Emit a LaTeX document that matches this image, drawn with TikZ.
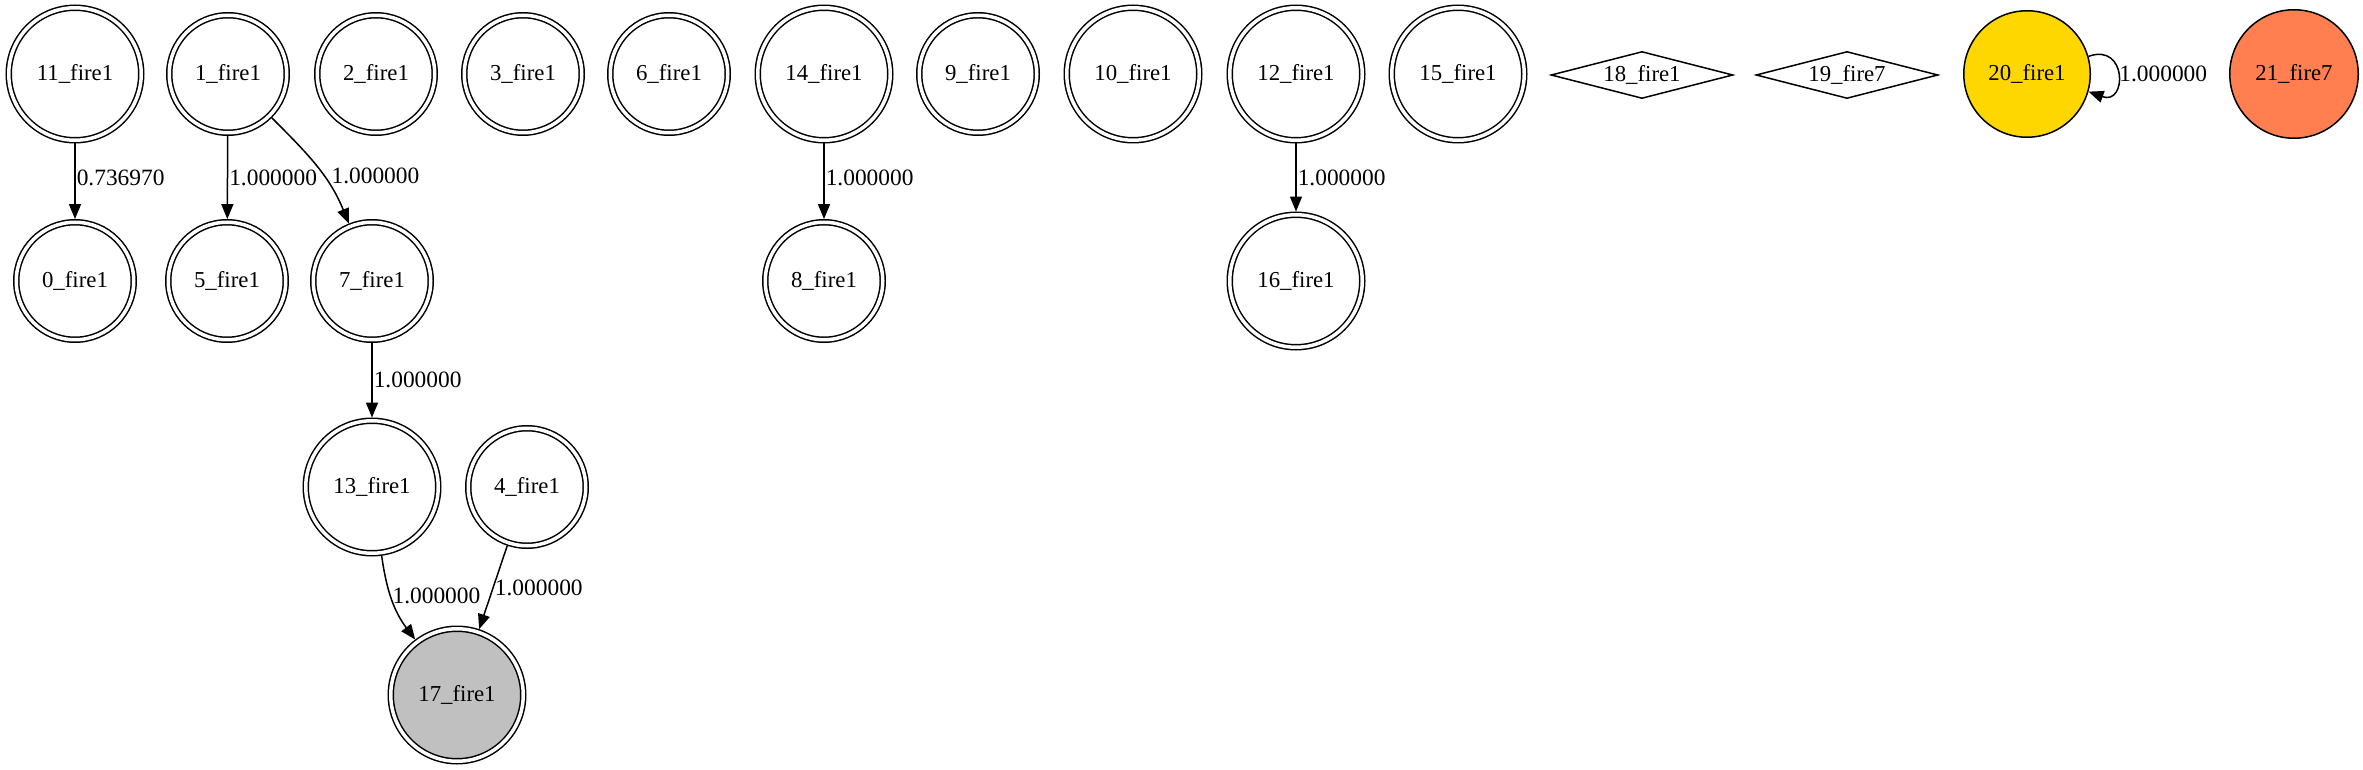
\documentclass[tikz,border=0pt]{standalone}
\usepackage{fontspec}
\setmainfont{Liberation Serif}
\usetikzlibrary{shapes.geometric,arrows.meta}
\definecolor{gvgold}{RGB}{255,215,0}
\definecolor{gvcoral}{RGB}{255,127,80}
\definecolor{gvgray}{RGB}{192,192,192}
\begin{document}
\begin{tikzpicture}[x=0.5pt, y=-0.5pt, line width=0.75pt,
  every node/.style={font=\fontsize{11.4}{13}\selectfont},
  acc/.style={circle, draw, double, double distance=1.75pt, outer sep=1.6pt, inner sep=0pt, minimum size=58.75pt},
  big/.style={acc, minimum size=66.25pt},
  filled/.style={circle, draw, inner sep=0pt, minimum size=63.25pt},
  dia/.style={diamond, draw, shape aspect=3.8, inner sep=0pt, minimum width=91pt, minimum height=23.5pt},
  arr/.style={-{Triangle[length=7.5pt,width=6pt]}},
  lbl/.style={right, inner sep=0.5pt, font=\fontsize{11.7}{13}\selectfont}]
  \useasboundingbox (0,0) rectangle (2363,770);

  \node[big] (N11) at (75,74) {11\_fire1};
  \node[acc] (N1) at (228,74) {1\_fire1};
  \node[acc] (N2) at (376,74) {2\_fire1};
  \node[acc] (N3) at (523,74) {3\_fire1};
  \node[acc] (N6) at (669,74) {6\_fire1};
  \node[big] (N14) at (824,74) {14\_fire1};
  \node[acc] (N9) at (978,74) {9\_fire1};
  \node[big] (N10) at (1133,74) {10\_fire1};
  \node[big] (N12) at (1296,74) {12\_fire1};
  \node[big] (N15) at (1458,74) {15\_fire1};
  \node[dia] (N18) at (1642,75) {18\_fire1};
  \node[dia] (N19) at (1847,75) {19\_fire7};
  \node[filled, fill=gvgold] (N20) at (2027,74) {20\_fire1};
  \node[filled, fill=gvcoral, minimum size=64.25pt] (N21) at (2294,74) {21\_fire7};

  \node[acc] (N0) at (75,281) {0\_fire1};
  \node[acc] (N5) at (227,281) {5\_fire1};
  \node[acc] (N7) at (372,281) {7\_fire1};
  \node[acc] (N8) at (824,281) {8\_fire1};
  \node[big] (N16) at (1296,281) {16\_fire1};

  \node[big] (N13) at (372,487) {13\_fire1};
  \node[acc] (N4) at (527,487) {4\_fire1};
  \node[big, fill=gvgray] (N17) at (457,695) {17\_fire1};

  \draw[arr] (N11) -- node[lbl, pos=0.45] {0.736970} (N0);
  \draw[arr] (N1) -- node[lbl] {1.000000} (N5);
  \draw[arr] (N1) to[out=-45, in=112] node[lbl, pos=0.6, xshift=3pt] {1.000000} (N7);
  \draw[arr] (N14) -- node[lbl, pos=0.45] {1.000000} (N8);
  \draw[arr] (N12) -- node[lbl] {1.000000} (N16);
  \draw[arr] (N7) -- node[lbl] {1.000000} (N13);
  \draw[arr] (N13) to[out=-82, in=127] node[lbl, pos=0.45] {1.000000} (N17);
  \draw[arr] (N4) -- node[lbl, pos=0.5] {1.000000} (N17);
  \draw[arr] (N20.16) to[out=20, in=-20, looseness=3] node[lbl] {1.000000} (N20.-16);
\end{tikzpicture}
\end{document}
